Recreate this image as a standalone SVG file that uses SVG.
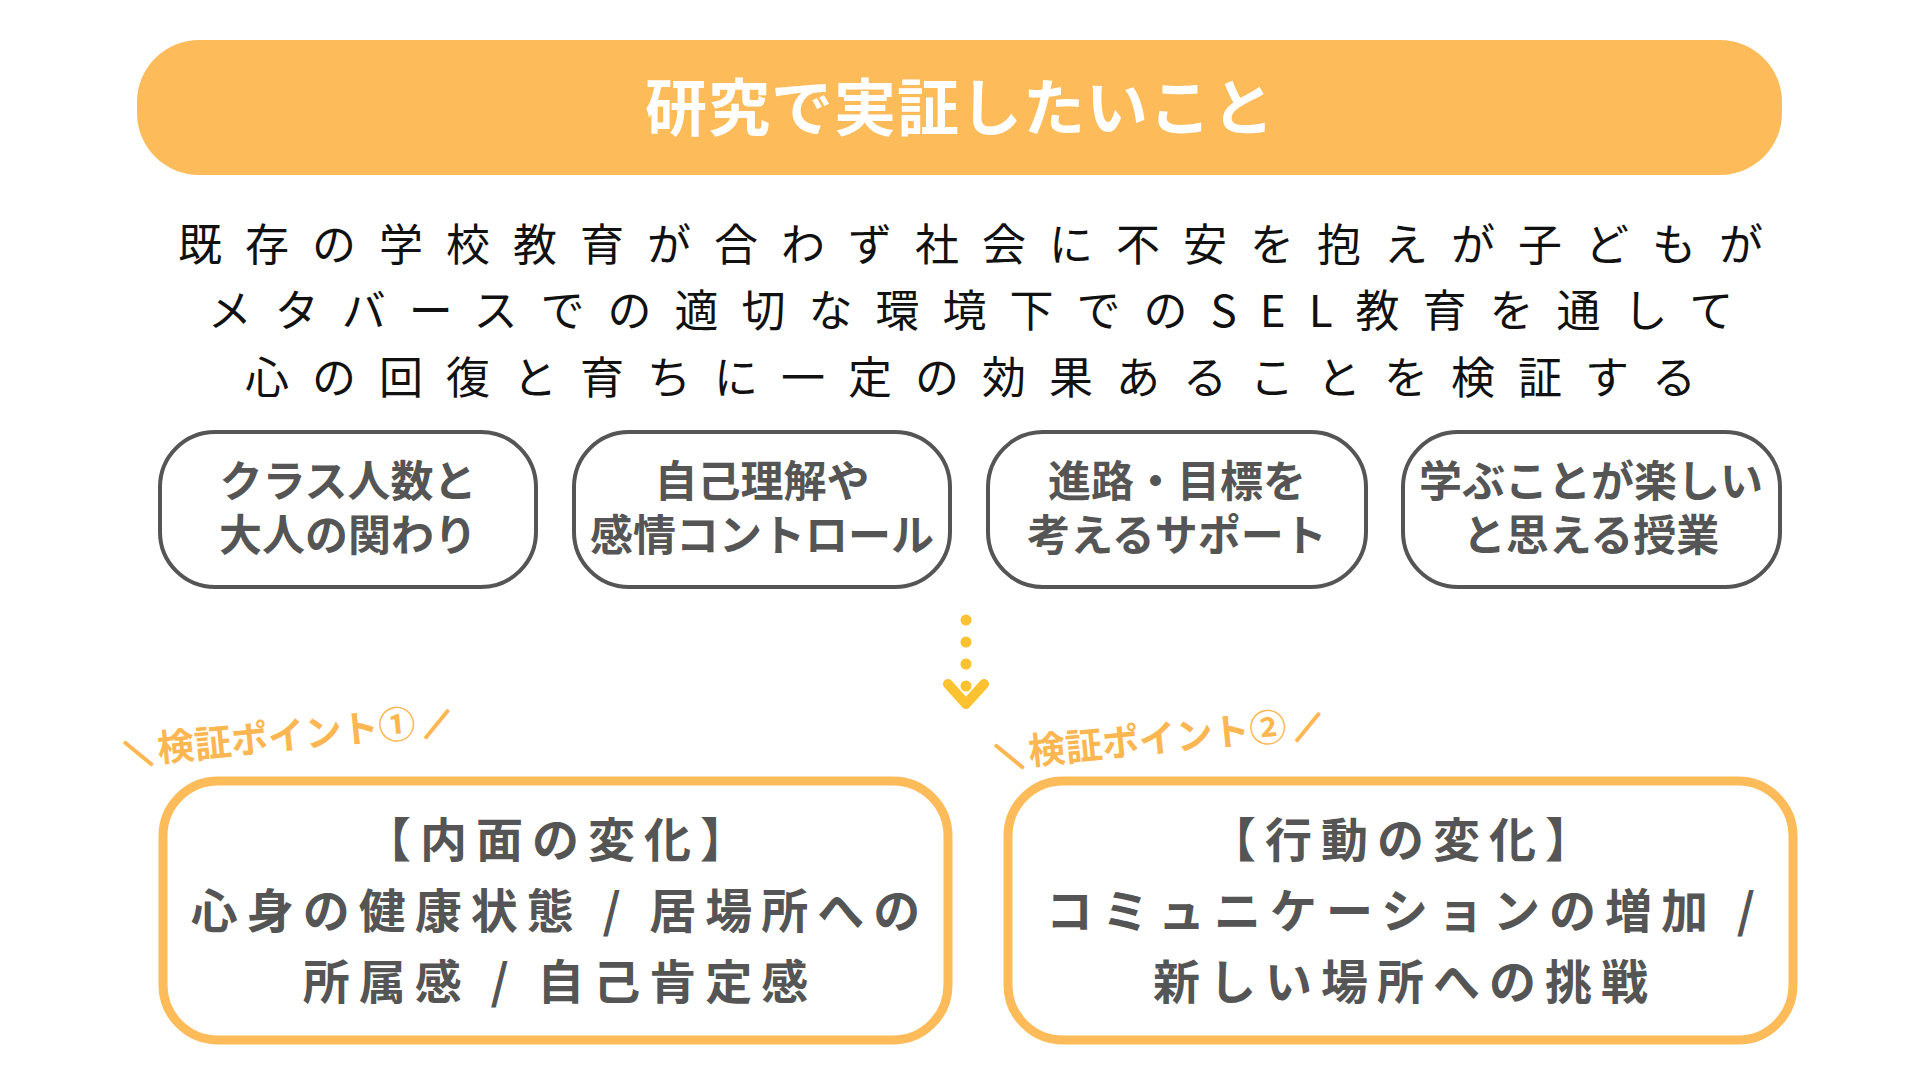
<svg xmlns="http://www.w3.org/2000/svg" width="1920" height="1080" viewBox="0 0 1920 1080">
<style>
.jp{font-family:"Noto Sans CJK JP","Noto Sans",sans-serif}
.title{font-size:62px;font-weight:700;fill:#ffffff;letter-spacing:1px}
.para{font-size:44px;font-weight:400;fill:#111111;letter-spacing:23px}
.box{fill:#ffffff;stroke:#555555;stroke-width:4}
.boxt{font-size:43px;font-weight:700;fill:#555555}
.obox{fill:#ffffff;stroke:#FEBB5A;stroke-width:9}
.obt{font-size:47px;font-weight:700;fill:#555555;letter-spacing:9px}
.lbl{font-size:37px;font-weight:700;fill:#FDB752}
.sl{font-size:27px;stroke:#FDB752;stroke-width:2.5;stroke-linejoin:round}
</style>
<rect width="1920" height="1080" fill="#ffffff"/>
<g id="title">
<rect x="137" y="40" width="1645" height="135" rx="62" fill="#FEBB5A"/>
<text class="jp title" x="960" y="131" text-anchor="middle">研究で実証したいこと</text>
</g>
<g id="statement">
<text class="jp para" x="982" y="261" text-anchor="middle">既存の学校教育が合わず社会に不安を抱えが子どもが</text>
<text class="jp para" x="982" y="327" text-anchor="middle">メタバースでの適切な環境下でのSEL教育を通して</text>
<text class="jp para" x="982" y="394" text-anchor="middle">心の回復と育ちに一定の効果あることを検証する</text>
</g>
<g id="factor1">
<rect class="box" x="160" y="432" width="376" height="155" rx="55"/>
<text class="jp boxt" x="348" y="497" text-anchor="middle">クラス人数と</text>
<text class="jp boxt" x="348" y="551" text-anchor="middle">大人の関わり</text>
</g>
<g id="factor2">
<rect class="box" x="574" y="432" width="376" height="155" rx="55"/>
<text class="jp boxt" x="762" y="497" text-anchor="middle">自己理解や</text>
<text class="jp boxt" x="762" y="551" text-anchor="middle">感情コントロール</text>
</g>
<g id="factor3">
<rect class="box" x="988" y="432" width="378" height="155" rx="55"/>
<text class="jp boxt" x="1177" y="497" text-anchor="middle">進路・目標を</text>
<text class="jp boxt" x="1177" y="551" text-anchor="middle">考えるサポート</text>
</g>
<g id="factor4">
<rect class="box" x="1403" y="432" width="377" height="155" rx="55"/>
<text class="jp boxt" x="1591" y="497" text-anchor="middle">学ぶことが楽しい</text>
<text class="jp boxt" x="1591" y="551" text-anchor="middle">と思える授業</text>
</g>
<g id="connectors">
<g fill="#FCC22F">
<circle cx="966" cy="620" r="5.5"/>
<circle cx="966" cy="642" r="5.5"/>
<circle cx="966" cy="664" r="5.5"/>
<circle cx="966" cy="686" r="5.5"/>
</g>
<polyline points="948,684 966,704 984,684" fill="none" stroke="#FCC22F" stroke-width="10" stroke-linecap="round" stroke-linejoin="round"/>
</g>
<g id="label1">
<text class="jp lbl" x="126" y="765" transform="rotate(-5.6 126 765)"><tspan class="sl">＼</tspan><tspan dx="6">検証ポイント①</tspan><tspan class="sl" dx="8">／</tspan></text>
</g>
<g id="label2">
<text class="jp lbl" x="997" y="768" transform="rotate(-5.6 997 768)"><tspan class="sl">＼</tspan><tspan dx="6">検証ポイント②</tspan><tspan class="sl" dx="8">／</tspan></text>
</g>
<g id="result1">
<rect class="obox" x="163" y="781" width="785" height="259" rx="55"/>
<text class="jp obt" x="560" y="857" text-anchor="middle">【内面の変化】</text>
<text class="jp obt" x="560" y="928" text-anchor="middle">心身の健康状態 / 居場所への</text>
<text class="jp obt" x="560" y="999" text-anchor="middle">所属感 / 自己肯定感</text>
</g>
<g id="result2">
<rect class="obox" x="1008" y="781" width="785" height="259" rx="55"/>
<text class="jp obt" x="1405" y="857" text-anchor="middle">【行動の変化】</text>
<text class="jp obt" x="1405" y="928" text-anchor="middle">コミュニケーションの増加 /</text>
<text class="jp obt" x="1405" y="999" text-anchor="middle">新しい場所への挑戦</text>
</g>
</svg>
